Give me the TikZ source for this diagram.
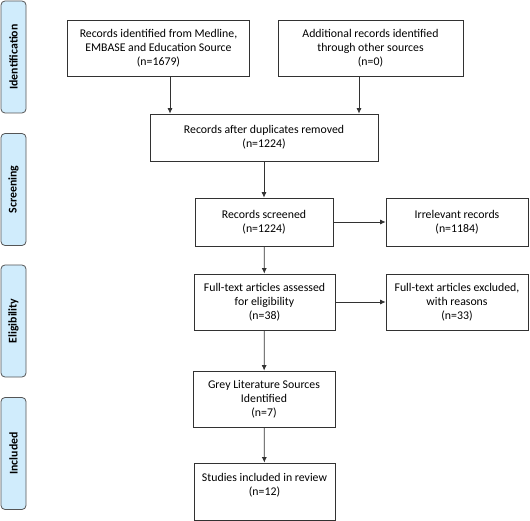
\documentclass[tikz,border=0pt]{standalone}
\usepackage{fontspec}
\setmainfont{Carlito}
\usetikzlibrary{arrows.meta, positioning, calc}

\definecolor{stagefill}{RGB}{208,236,252}
\definecolor{stageline}{RGB}{85,85,85}
\definecolor{boxline}{RGB}{50,50,50}

\tikzset{
  stagebox/.style={draw=stageline, fill=stagefill, rounded corners=4pt, line width=0.8pt,
    rotate=90, minimum width=112pt, minimum height=25pt, inner sep=0pt,
    font=\fontsize{11.8}{13}\selectfont\bfseries},
  flowbox/.style={draw=boxline, line width=0.75pt, align=center, inner sep=2pt,
    font=\fontsize{11.8}{14}\selectfont},
  arr/.style={-{Latex[length=5.5pt,width=5pt]}, draw=boxline, line width=0.75pt}
}

\begin{document}
\begin{tikzpicture}[x=1pt, y=-1pt]
      \useasboundingbox (0,0) rectangle (530,521);

      % stages on the left
      \node[stagebox] (ident) at (13.5,57)    {Identification};
      \node[stagebox] (screen) at (13.5,189.5) {Screening};
      \node[stagebox] (elig) at (13.5,321)    {Eligibility};
      \node[stagebox] (incl) at (13.5,453.5)  {Included};

      % flow boxes
      \node[flowbox, minimum width=182pt, minimum height=56pt] (medline) at (158.5,48)
        {Records identified from Medline,\\EMBASE and Education Source\\(n=1679)};
      \node[flowbox, minimum width=185pt, minimum height=56pt] (other) at (370.5,48)
        {Additional records identified\\through other sources\\(n=0)};
      \node[flowbox, minimum width=228pt, minimum height=47pt] (dupl) at (264,137.5)
        {Records after duplicates removed\\(n=1224)};
      \node[flowbox, minimum width=138pt, minimum height=48pt] (screened) at (264,222)
        {Records screened\\(n=1224)};
      \node[flowbox, minimum width=142pt, minimum height=48pt] (irrel) at (457,222)
        {Irrelevant records\\(n=1184)};
      \node[flowbox, minimum width=141pt, minimum height=56pt] (fulltext) at (264.5,302)
        {Full-text articles assessed\\for eligibility\\(n=38)};
      \node[flowbox, minimum width=142pt, minimum height=56pt] (excl) at (457,302)
        {Full-text articles excluded,\\with reasons\\(n=33)};
      \node[flowbox, minimum width=142pt, minimum height=56pt] (grey) at (264,399)
        {Grey Literature Sources\\Identified\\(n=7)};
      \node[flowbox, minimum width=141pt, minimum height=57pt] (studies) at (264.5,491.5)
        {Studies included in review\\(n=12)\\~};

      % connectors
      \coordinate (m1) at ([xshift=11.5pt]medline.south);
      \coordinate (o1) at ([xshift=-11.5pt]other.south);
      \draw[arr] (m1) -- (m1 |- dupl.north);
      \draw[arr] (o1) -- (o1 |- dupl.north);
      \draw[arr] (dupl) -- (screened);
      \draw[arr] (screened) -- (irrel);
      \draw[arr] (screened) -- (fulltext);
      \draw[arr] (fulltext) -- (excl);
      \draw[arr] (fulltext) -- (grey);
      \draw[arr] (grey) -- (studies);
    \end{tikzpicture}
\end{document}
